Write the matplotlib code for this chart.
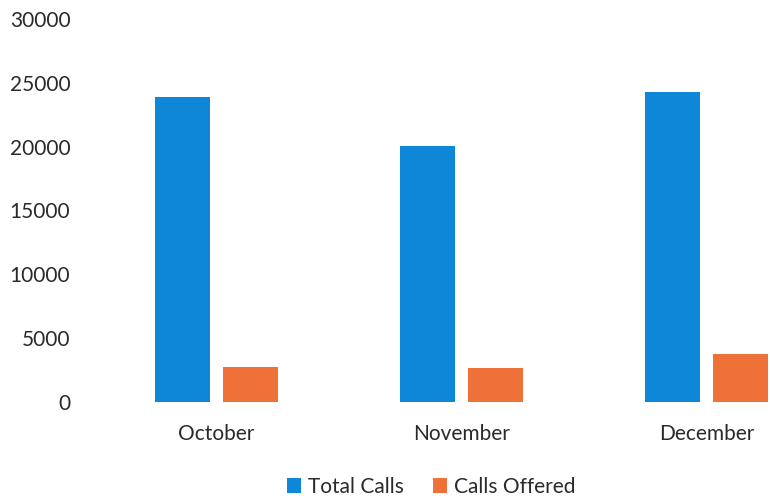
import matplotlib
matplotlib.use("Agg")
import matplotlib.pyplot as plt
import numpy as np

months = ["October", "November", "December"]
total_calls = [23900, 20050, 24250]
calls_offered = [2770, 2640, 3740]

plt.rcParams['font.family'] = ['Lato', 'DejaVu Sans']

fig = plt.figure(figsize=(7.7, 5.01), dpi=100)
W, H = 770, 501
left_px, bottom_px, top_px = 94, 402, 19
ax = fig.add_axes([left_px / W, (H - bottom_px) / H, 1 - left_px / W, (bottom_px - top_px) / H])

x = np.arange(len(months))
w = 0.224
off = 0.14
ax.bar(x - off, total_calls, w, color="#0E87D8", label="Total Calls")
ax.bar(x + off, calls_offered, w, color="#EE7237", label="Calls Offered")

ax.set_xlim(-0.5, (W - 216.5) / 245)
ax.set_ylim(0, 30000)
ax.set_yticks(range(0, 30001, 5000))
ax.set_xticks(x)
ax.set_xticklabels(months)
for s in ax.spines.values():
    s.set_visible(False)
ax.tick_params(axis="both", length=0, labelsize=15, colors="#2a2a2a")
ax.tick_params(axis="y", pad=17)
ax.tick_params(axis="x", pad=16)

fig.legend(loc="center", bbox_to_anchor=(431 / W, 1 - 487 / H), ncol=2, frameon=False,
           fontsize=15, handlelength=0.7, handleheight=0.7, handletextpad=0.3,
           columnspacing=1.4, labelcolor="#2a2a2a")

fig.savefig("out.png", dpi=100)
